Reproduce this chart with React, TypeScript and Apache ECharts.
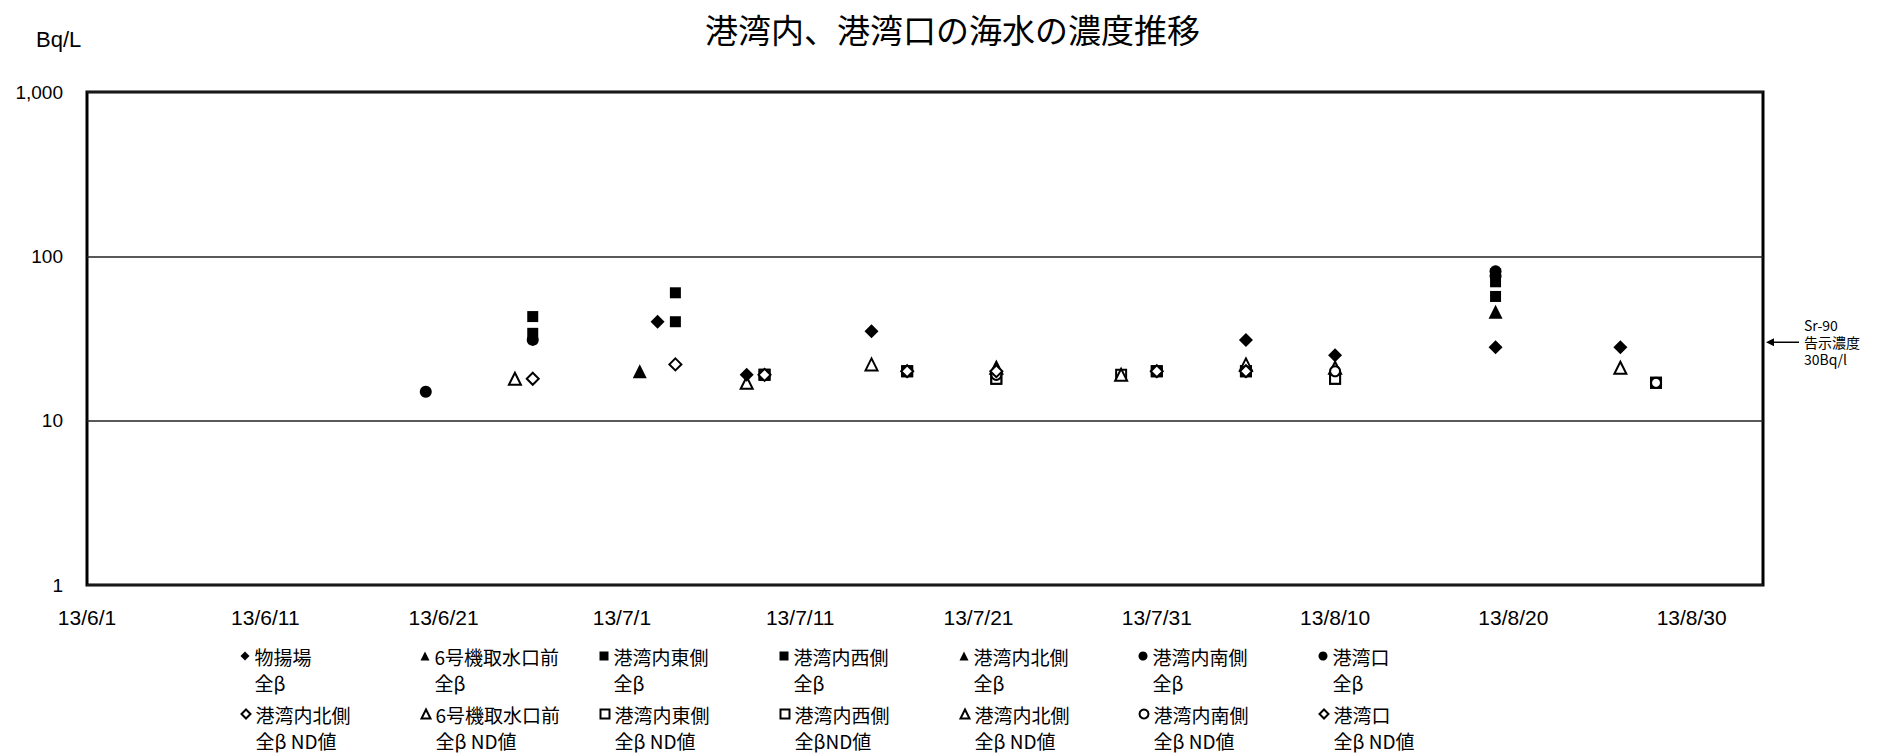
import React, { useEffect, useRef } from "react";
import * as echarts from "echarts";

// ---- time helpers (days counted from 2013-06-01) ----
const BASE = Date.UTC(2013, 5, 1);
const DAY = 86400000;
const dayOf = (md: string) => {
  const [m, d] = md.split("/").map(Number);
  return (Date.UTC(2013, m - 1, d) - BASE) / DAY;
};
const dayLabel = (v: number) => {
  const t = new Date(BASE + v * DAY);
  return `13/${t.getUTCMonth() + 1}/${t.getUTCDate()}`;
};

// ---- axis settings ----
const xMinDay = 0; // 13/6/1
const xMaxDay = 94; // 13/9/3
const xTickStep = 10;
const yTickLabels: Record<number, string> = { 1: "1", 10: "10", 100: "100", 1000: "1,000" };
const srLimit = 30; // Sr-90 告示濃度 (Bq/L)

// ---- measured values [date, Bq/L] ----
const butsuageBeta: [string, number][] = [
  ["7/3", 40], ["7/8", 19], ["7/15", 35], ["8/5", 31], ["8/10", 25], ["8/19", 28], ["8/26", 28],
];
const unit6IntakeBeta: [string, number][] = [["7/2", 20]];
const eastBeta: [string, number][] = [["6/26", 43], ["7/4", 60], ["8/19", 70]];
const westBeta: [string, number][] = [["6/26", 34], ["7/4", 40], ["8/19", 57]];
const northBeta: [string, number][] = [["8/19", 46]];
const southBeta: [string, number][] = [["6/26", 31], ["8/19", 81]];
const mouthBeta: [string, number][] = [["6/20", 15], ["8/19", 76]];

// ---- ND (detection limit) values [date, Bq/L] ----
const northNdDiamond: [string, number][] = [["6/26", 18], ["7/4", 22]];
const unit6IntakeNd: [string, number][] = [["6/25", 18], ["7/8", 17]];
const eastNd: [string, number][] = [
  ["7/9", 19], ["7/17", 20], ["7/22", 18], ["7/31", 20], ["8/5", 20], ["8/10", 18], ["8/28", 17],
];
const westNd: [string, number][] = [
  ["7/9", 19], ["7/17", 20], ["7/22", 18], ["7/29", 19], ["7/31", 20], ["8/5", 20], ["8/10", 18], ["8/28", 17],
];
const northNdTriangle: [string, number][] = [
  ["7/15", 22], ["7/22", 21], ["7/29", 19], ["8/5", 22], ["8/10", 21], ["8/26", 21],
];
const southNd: [string, number][] = [
  ["7/9", 19], ["7/17", 20], ["7/22", 19], ["7/31", 20], ["8/5", 20], ["8/10", 20], ["8/28", 17],
];
const mouthNd: [string, number][] = [["7/9", 19], ["7/17", 20], ["7/22", 20], ["7/31", 20], ["8/5", 20]];

type SeriesDef = {
  key: string;
  label: string;
  data: [string, number][];
  symbol: string;
  size: number;
  filled: boolean;
  col: number;
  row: number;
};

const seriesDefs: SeriesDef[] = [
  { key: "s1", label: "物揚場\n全β", data: butsuageBeta, symbol: "diamond", size: 14, filled: true, col: 0, row: 0 },
  { key: "s2", label: "6号機取水口前\n全β", data: unit6IntakeBeta, symbol: "triangle", size: 14, filled: true, col: 1, row: 0 },
  { key: "s3", label: "港湾内東側\n全β", data: eastBeta, symbol: "rect", size: 11, filled: true, col: 2, row: 0 },
  { key: "s4", label: "港湾内西側\n全β", data: westBeta, symbol: "rect", size: 11, filled: true, col: 3, row: 0 },
  { key: "s5", label: "港湾内北側\n全β", data: northBeta, symbol: "triangle", size: 14, filled: true, col: 4, row: 0 },
  { key: "s6", label: "港湾内南側\n全β", data: southBeta, symbol: "circle", size: 12, filled: true, col: 5, row: 0 },
  { key: "s7", label: "港湾口\n全β", data: mouthBeta, symbol: "circle", size: 12, filled: true, col: 6, row: 0 },
  { key: "s8", label: "港湾内北側\n全β ND値", data: northNdDiamond, symbol: "diamond", size: 12, filled: false, col: 0, row: 1 },
  { key: "s9", label: "6号機取水口前\n全β ND値", data: unit6IntakeNd, symbol: "triangle", size: 12, filled: false, col: 1, row: 1 },
  { key: "s10", label: "港湾内東側\n全β ND値", data: eastNd, symbol: "rect", size: 10, filled: false, col: 2, row: 1 },
  { key: "s11", label: "港湾内西側\n全βND値", data: westNd, symbol: "rect", size: 10, filled: false, col: 3, row: 1 },
  { key: "s12", label: "港湾内北側\n全β ND値", data: northNdTriangle, symbol: "triangle", size: 12, filled: false, col: 4, row: 1 },
  { key: "s13", label: "港湾内南側\n全β ND値", data: southNd, symbol: "circle", size: 10, filled: false, col: 5, row: 1 },
  { key: "s14", label: "港湾口\n全β ND値", data: mouthNd, symbol: "diamond", size: 12, filled: false, col: 6, row: 1 },
];

// legend layout: icon centres (first text line is level with the icon)
const legendColX = [245, 425, 604, 784, 964, 1143, 1323];
const legendRowY = [656, 714];
const legendLine = 26;

const JP = '"Noto Sans CJK JP", "Liberation Sans", sans-serif';
const LATIN = '"Liberation Sans", Arial, sans-serif';

export default function App() {
  const ref = useRef<HTMLDivElement>(null);

  useEffect(() => {
    if (!ref.current) return;
    const chart = echarts.init(ref.current, undefined, { renderer: "svg" });
    const iconSize = 9;

    chart.setOption({
      animation: false,
      backgroundColor: "#fff",
      title: {
        text: "港湾内、港湾口の海水の濃度推移",
        left: 700,
        top: 7,
        textStyle: { fontFamily: JP, fontSize: 33, fontWeight: "normal", color: "#000" },
      },
      grid: {
        left: 87,
        right: 114,
        top: 92,
        bottom: 170,
        show: true,
        borderColor: "#000",
        borderWidth: 3,
        backgroundColor: "transparent",
      },
      xAxis: {
        type: "value",
        min: xMinDay,
        max: xMaxDay,
        interval: xTickStep,
        axisLine: { show: false },
        axisTick: { show: false },
        splitLine: { show: false },
        axisLabel: {
          formatter: (v: number) => dayLabel(v),
          showMaxLabel: false,
          margin: 22,
          fontSize: 21,
          fontFamily: LATIN,
          color: "#000",
        },
      },
      yAxis: {
        type: "log",
        logBase: 10,
        min: 1,
        max: 1000,
        axisLine: { show: false },
        axisTick: { show: false },
        splitLine: { show: true, lineStyle: { color: "#222", width: 1.5 } },
        axisLabel: {
          formatter: (v: number) => yTickLabels[Math.round(v)] ?? String(v),
          margin: 24,
          fontSize: 19,
          fontFamily: LATIN,
          color: "#000",
        },
      },
      // one legend per entry so that the 7 x 2 block keeps its columns;
      // a leading blank line keeps the icon level with the first text line
      legend: seriesDefs.map((s) => ({
        data: [s.key],
        left: legendColX[s.col] - iconSize / 2,
        top: legendRowY[s.row] - 1.5 * legendLine,
        padding: 0,
        itemWidth: iconSize,
        itemHeight: iconSize,
        selectedMode: false,
        formatter: () => "\n" + s.label,
        textStyle: {
          fontFamily: JP,
          fontSize: 19,
          lineHeight: legendLine,
          color: "#000",
        },
      })),
      series: seriesDefs.map((s) => ({
        type: "scatter",
        name: s.key,
        symbol: s.symbol,
        symbolSize: s.size,
        z: s.filled ? 3 : 2,
        itemStyle: s.filled
          ? { color: "#000", borderWidth: 0, opacity: 1 }
          : { color: "#fff", borderColor: "#000", borderWidth: 2, opacity: 1 },
        data: s.data.map(([d, v]) => [dayOf(d), v]),
      })),
    });

    // Sr-90 reference marker on the right of the plot
    const yRef = chart.convertToPixel({ yAxisIndex: 0 }, srLimit) as number;
    const xEdge = chart.convertToPixel({ xAxisIndex: 0 }, xMaxDay) as number;
    chart.setOption({
      graphic: [
        {
          type: "text",
          left: 36,
          top: 28,
          style: { text: "Bq/L", fontFamily: LATIN, fontSize: 22, fill: "#000" },
        },
        {
          type: "line",
          shape: { x1: xEdge + 8, y1: yRef, x2: xEdge + 36, y2: yRef },
          style: { stroke: "#000", lineWidth: 1.5 },
        },
        {
          type: "polygon",
          shape: {
            points: [
              [xEdge + 3, yRef],
              [xEdge + 11, yRef - 4],
              [xEdge + 11, yRef + 4],
            ],
          },
          style: { fill: "#000" },
        },
        {
          type: "text",
          x: xEdge + 41,
          y: yRef,
          style: {
            text: "Sr-90\n告示濃度\n30Bq/l",
            fontFamily: JP,
            fontSize: 14,
            lineHeight: 17,
            fill: "#000",
            verticalAlign: "middle",
            align: "left",
          },
        },
      ],
    });

    return () => chart.dispose();
  }, []);

  return (
    <div
      ref={ref}
      style={{ position: "fixed", left: 0, top: 0, width: 1877, height: 755, background: "#fff" }}
    />
  );
}
